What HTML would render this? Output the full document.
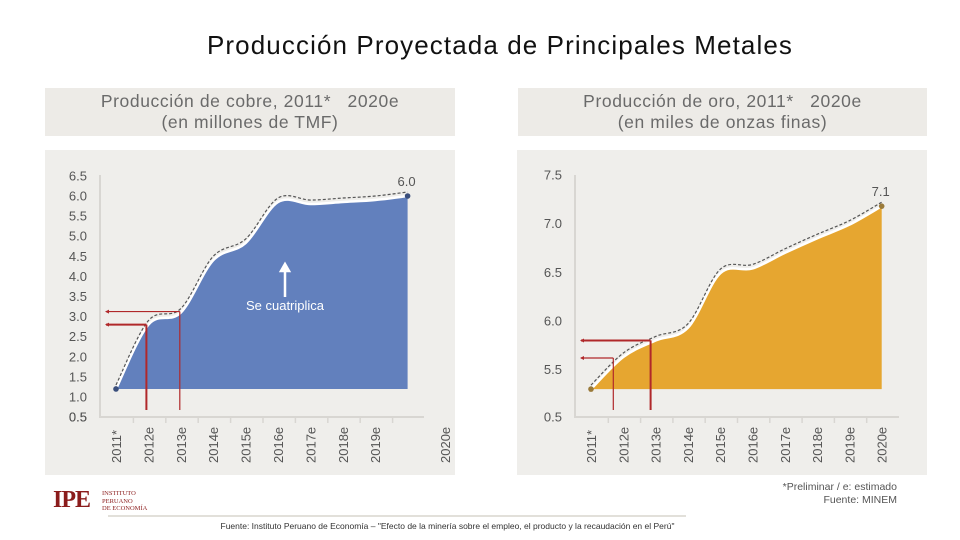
<!DOCTYPE html>
<html><head><meta charset="utf-8"><style>
body{margin:0;width:960px;height:540px;background:#fff;overflow:hidden;font-family:"Liberation Sans",sans-serif;position:relative}
.abs{position:absolute}
.hdr{background:#edebe7;color:#6a6a6a;font-size:17.5px;letter-spacing:0.6px;text-align:center;line-height:21px;padding-top:3px;box-sizing:border-box}
.panel{background:#efeeeb}
</style></head><body>
<div class="abs" style="left:0;width:1000px;top:30px;text-align:center;font-size:26px;color:#111;letter-spacing:1.1px">Producción Proyectada de Principales Metales</div>
<div class="abs hdr" style="left:45px;top:88px;width:410px;height:48px">Producción de cobre, 2011* &nbsp; 2020e<br>(en millones de TMF)</div>
<div class="abs hdr" style="left:518px;top:88px;width:409px;height:48px">Producción de oro, 2011* &nbsp; 2020e<br>(en miles de onzas finas)</div>
<div class="abs panel" style="left:45px;top:150px;width:410px;height:325px"></div>
<div class="abs panel" style="left:517px;top:150px;width:410px;height:325px"></div>
<svg class="abs" style="left:0;top:0" width="960" height="540">
<g id="c1"></g>
<g id="c2"></g>
</svg>
<div class="abs" style="left:53px;top:487px;font-family:'Liberation Serif',serif;color:#8b1c1c;font-size:24px;font-weight:bold;letter-spacing:-1px">IPE</div>
<div class="abs" style="left:102px;top:490px;font-family:'Liberation Serif',serif;color:#8b1c1c;font-size:6.5px;line-height:7.5px">INSTITUTO<br>PERUANO<br>DE ECONOMÍA</div>
<div class="abs" style="left:108px;top:515px;width:578px;height:2px;background:#e2e0da"></div>
<div class="abs" style="left:0;width:895px;top:521px;text-align:center;font-size:8.5px;color:#333">Fuente: Instituto Peruano de Economía – "Efecto de la minería sobre el empleo, el producto y la recaudación en el Perú"</div>
<div class="abs" style="right:63px;top:481px;text-align:right;font-size:10.5px;color:#555;line-height:13px">*Preliminar / e: estimado<br>Fuente: MINEM</div>
<script>
const years=["2011*","2012e","2013e","2014e","2015e","2016e","2017e","2018e","2019e","2020e"];
const copperValues=[1.2,2.8,3.1,4.4,4.83,5.85,5.8,5.85,5.9,6.0];
const copperTicks=["6.5","6.0","5.5","5.0","4.5","4.0","3.5","3.0","2.5","2.0","1.5","1.0","0.5"];
const goldValues=[5.3,5.63,5.8,5.93,6.49,6.54,6.7,6.85,6.99,7.18];
const goldTicks=["7.5","7.0","6.5","6.0","5.5"];
const NS="http://www.w3.org/2000/svg";
function mk(g,t,a,txt){const e=document.createElementNS(NS,t);for(const k in a)e.setAttribute(k,a[k]);if(txt!==undefined)e.textContent=txt;g.appendChild(e);return e;}
function smooth(p){let d="M"+p[0][0]+","+p[0][1];for(let i=0;i<p.length-1;i++){const p0=p[i-1]||p[i],p1=p[i],p2=p[i+1],p3=p[i+2]||p2;d+=" C"+(p1[0]+(p2[0]-p0[0])/6)+","+(p1[1]+(p2[1]-p0[1])/6)+" "+(p2[0]-(p3[0]-p1[0])/6)+","+(p2[1]-(p3[1]-p1[1])/6)+" "+p2[0]+","+p2[1];}return d;}
function draw(id,o){
 const g=document.getElementById(id);
 const x=i=>o.x0+i*o.dx, y=v=>o.yA-(v-o.vA)*o.k;
 mk(g,"line",{x1:o.ax,y1:175,x2:o.ax,y2:418,stroke:"#d8d6d2","stroke-width":2});
 mk(g,"line",{x1:o.ax,y1:417,x2:o.ax+324,y2:417,stroke:"#d8d6d2","stroke-width":2});
 o.ticks.forEach(t=>{const yy=y(parseFloat(t));
  let e=mk(g,"text",{x:o.ax-13,y:yy+4.5,"text-anchor":"end","font-size":13,fill:"#555"},t);
  
  });
 let e0=mk(g,"text",{x:o.ax-13,y:421.5,"text-anchor":"end","font-size":13,fill:"#555"},"0.5");
 
 
 years.forEach((yr,i)=>{
  if(i>0&&i<10) mk(g,"line",{x1:o.x0-16+i*o.dx+1,y1:417,x2:o.x0-16+i*o.dx+1,y2:423,stroke:"#d8d6d2","stroke-width":1.5});
  const lx=(i==9&&o.lastX)?o.lastX:x(i);
  let t=mk(g,"text",{transform:`translate(${lx+5},${463}) rotate(-90)`,"font-size":13,fill:"#555"},yr);
  
  
 });
 const pts=o.vals.map((v,i)=>[x(i),y(v)]);
 const top=smooth(pts);
 const base=y(o.vals[0]);
 let a=mk(g,"path",{d:top+` L${x(9)},${base} L${x(0)},${base} Z`,fill:o.col});
 
 
 mk(g,"path",{d:top,fill:"none",stroke:"#fff","stroke-width":2.5});
 const dpts=pts.map(p=>[p[0],p[1]-4]);
 mk(g,"path",{d:smooth(dpts),fill:"none",stroke:"#555","stroke-width":1.2,"stroke-dasharray":"3,2"});
 [[0],[9]].forEach(([i])=>mk(g,"circle",{cx:x(i),cy:y(o.vals[i]),r:2.8,fill:o.dot}));
 let lb=mk(g,"text",{x:x(9)-1,y:y(o.vals[9])-10,"text-anchor":"middle","font-size":13,fill:"#555"},o.label);
 
 
 o.red.forEach(r=>{const xx=x(r.i)+r.off,yy=y(o.vals[r.i])+r.dy;
  mk(g,"line",{x1:xx,y1:yy,x2:xx,y2:410,stroke:"#b0282a","stroke-width":r.w});
  mk(g,"line",{x1:o.ax+6,y1:yy,x2:xx,y2:yy,stroke:"#b0282a","stroke-width":r.w});
  mk(g,"path",{d:`M${o.ax+5},${yy} l4,-2 l0,4 z`,fill:"#b0282a"});});
}
draw("c1",{ax:100,x0:116,dx:32.4,yA:397,vA:1,k:40.2,vals:copperValues,ticks:copperTicks,col:"#6280bd",dot:"#3b4f7c",label:"6.0",lastX:445,
 red:[{i:1,off:-2,dy:0,w:2},{i:2,off:-1,dy:-1,w:1.2}]});
draw("c2",{ax:575,x0:591,dx:32.3,yA:321,vA:6,k:97.3,vals:goldValues,ticks:goldTicks,col:"#e6a630",dot:"#9a7a3a",label:"7.1",
 red:[{i:1,off:-10,dy:1,w:1.2},{i:2,off:-5,dy:0,w:2}]});
const g1=document.getElementById("c1");
const ar=mk(g1,"path",{d:"M285,297 L285,268 M281,271 L285,264 L289,271 Z",stroke:"#fff","stroke-width":2.5,fill:"#fff"});


const st=mk(g1,"text",{x:285,y:310,"text-anchor":"middle","font-size":13,fill:"#fff"},"Se cuatriplica");


</script>
</body></html>
